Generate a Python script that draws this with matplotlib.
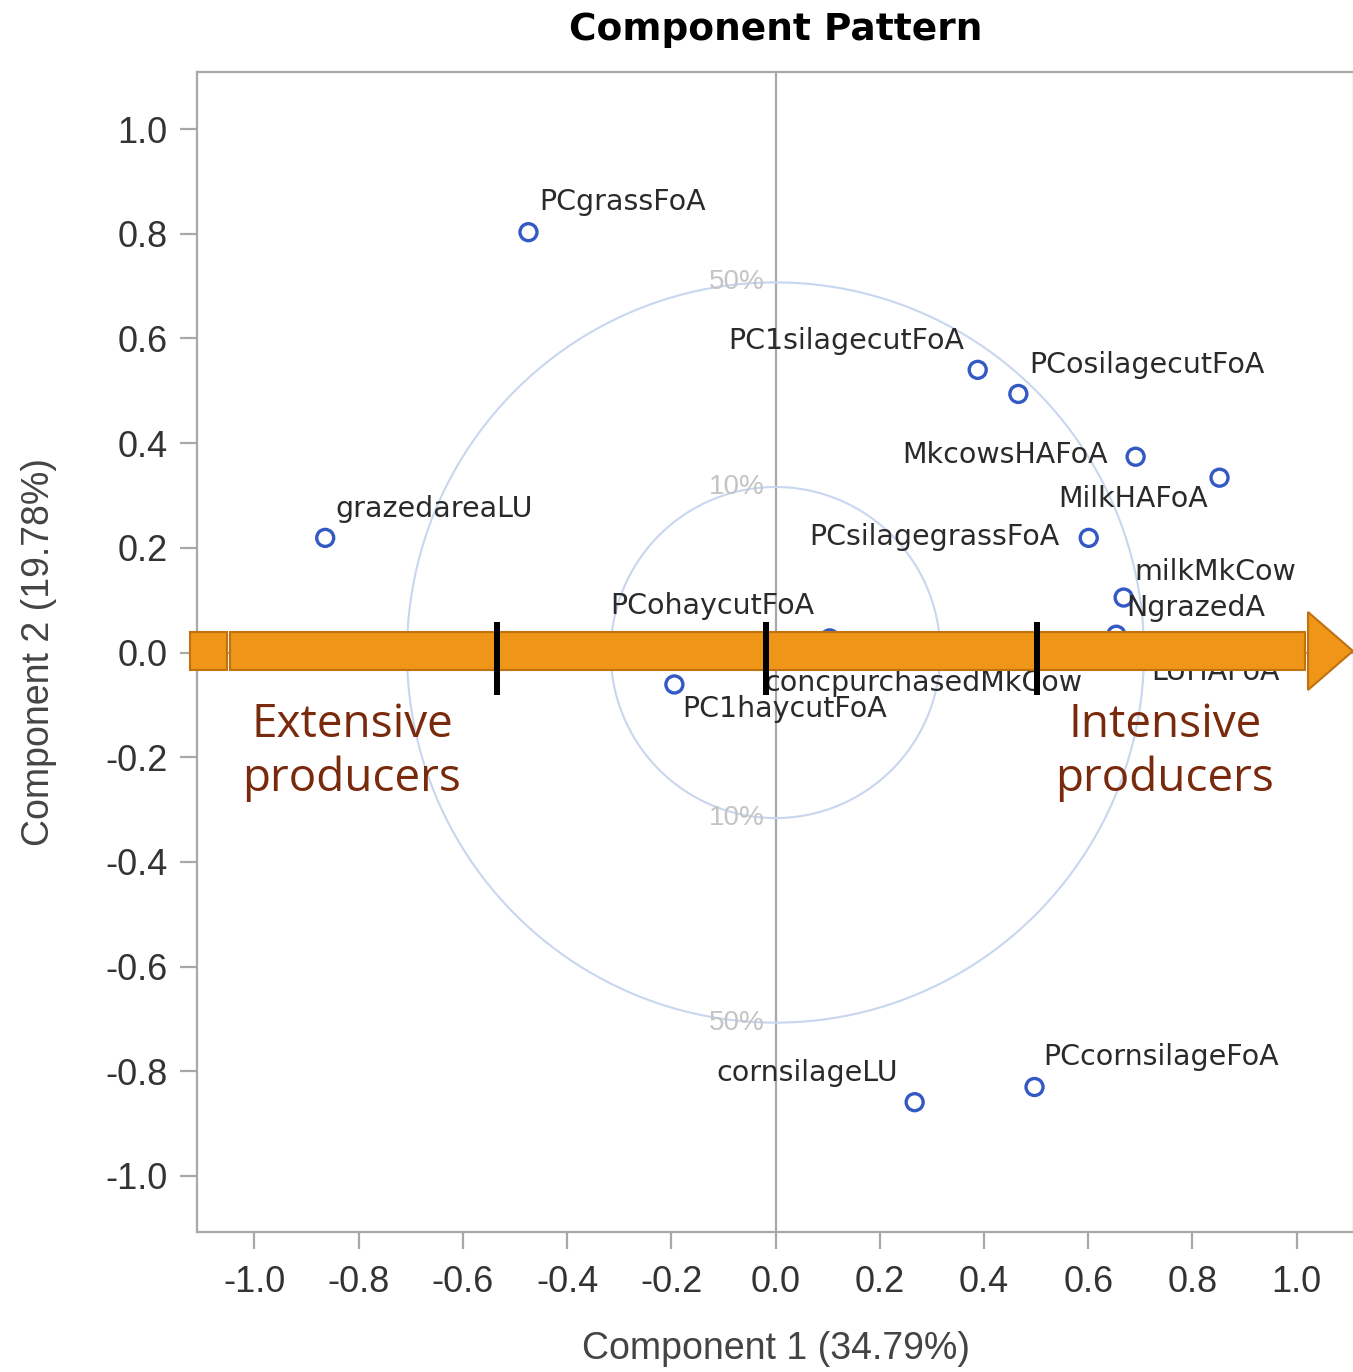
import matplotlib

matplotlib.use("Agg")
import matplotlib.pyplot as plt
import matplotlib.patches as mpatches
import numpy as np

# Component loadings
variables = [
    "PCgrassFoA", "PC1silagecutFoA", "PCosilagecutFoA", "MkcowsHAFoA",
    "MilkHAFoA", "PCsilagegrassFoA", "grazedareaLU", "milkMkCow",
    "NgrazedA", "PCohaycutFoA", "PC1haycutFoA", "concpurchasedMkCow",
    "LUHAFoA", "cornsilageLU", "PCcornsilageFoA",
]
comp1 = [-0.474, 0.388, 0.466, 0.691, 0.852, 0.601, -0.864, 0.668,
         0.654, 0.104, -0.194, -0.036, 0.706, 0.267, 0.497]
comp2 = [0.803, 0.540, 0.494, 0.374, 0.334, 0.219, 0.219, 0.105,
         0.034, 0.027, -0.061, -0.010, 0.011, -0.859, -0.830]

# variance explained circles
circle_pct = [10, 50]

ticks = [-1.0, -0.8, -0.6, -0.4, -0.2, 0.0, 0.2, 0.4, 0.6, 0.8, 1.0]

# label placement (pixel offset from point, horizontal alignment)
label_pos = {
    "PCgrassFoA": (11, 30, "left"),
    "PC1silagecutFoA": (-13, 29, "right"),
    "PCosilagecutFoA": (11, 29, "left"),
    "MkcowsHAFoA": (-28, 2, "right"),
    "MilkHAFoA": (-12, -21, "right"),
    "PCsilagegrassFoA": (-29, 1, "right"),
    "grazedareaLU": (10, 29, "left"),
    "milkMkCow": (11, 26, "left"),
    "NgrazedA": (10, 27, "left"),
    "PCohaycutFoA": (-15, 32, "right"),
    "PC1haycutFoA": (8, -25, "left"),
    "concpurchasedMkCow": (8, -25, "left"),
    "LUHAFoA": (8, -25, "left"),
    "cornsilageLU": (-17, 29, "right"),
    "PCcornsilageFoA": (9, 30, "left"),
}

W, H = 1353, 1372
GRID = "#a8a8a8"
TXT = "#333333"


def px(x, y):
    return (x / W, 1 - y / H)


fig = plt.figure(figsize=(W / 100, H / 100), dpi=100)
ax = fig.add_axes([197 / W, (H - 1232) / H, 1157 / W, 1160 / H])
ax.set_xlim(-1.11, 1.11)
ax.set_ylim(-1.107, 1.109)

for s in ax.spines.values():
    s.set_color(GRID)
    s.set_linewidth(1.6)

ax.set_xticks(ticks)
ax.set_yticks(ticks)
ax.set_xticklabels([f"{t:.1f}" for t in ticks])
ax.set_yticklabels([f"{t:.1f}" for t in ticks])
ax.tick_params(axis="both", colors=GRID, length=12, width=1.6, labelcolor=TXT,
               labelsize=26)
ax.tick_params(axis="x", pad=12)
ax.tick_params(axis="y", pad=9)
for lab in ax.get_xticklabels() + ax.get_yticklabels():
    lab.set_fontfamily("Liberation Sans")

ax.set_xlabel("Component 1 (34.79%)", fontsize=27, color="#444444",
              family="Liberation Sans", labelpad=22)
ax.set_ylabel("Component 2 (19.78%)", fontsize=27, color="#444444",
              family="Liberation Sans", labelpad=35)

ax.axvline(0, color=GRID, lw=1.6, zorder=1)
ax.axhline(0, color=GRID, lw=1.6, zorder=1)

theta = np.linspace(0, 2 * np.pi, 400)
for p in circle_pct:
    r = np.sqrt(p / 100)
    ax.plot(r * np.cos(theta), r * np.sin(theta), color="#c9d6ef", lw=1.5, zorder=1)
    for sgn in (1, -1):
        ax.text(-0.075, sgn * r, f"{p}%", ha="center", va="center", fontsize=20,
                color="#c4c4c4", family="Liberation Sans", zorder=2)

ax.scatter(comp1, comp2, s=150, facecolors="none", edgecolors="#3359c4",
           linewidths=2.4, zorder=3)
for name, x, y in zip(variables, comp1, comp2):
    dx, dy, ha = label_pos[name]
    ax.annotate(name, (x, y), xytext=(dx, dy), textcoords="offset pixels",
                ha=ha, va="center", fontsize=20.5, color="#2a2a2a",
                family="DejaVu Sans", zorder=4)

fig.text(*px(776, 30), "Component Pattern", ha="center", va="center",
         fontsize=27, fontweight="bold", color="black", family="DejaVu Sans")

# overlay: orange arrow with black markers
ORANGE = "#ef9518"
EDGE = "#bf720d"
for x0, x1 in [(190, 227), (230, 1305)]:
    (fx0, fy0) = px(x0, 670)
    (fx1, fy1) = px(x1, 632)
    fig.patches.append(mpatches.Rectangle((fx0, fy0), fx1 - fx0, fy1 - fy0,
                                          transform=fig.transFigure, facecolor=ORANGE,
                                          edgecolor=EDGE, lw=1.5, zorder=10))
head = [px(1308, 612), px(1353, 651), px(1308, 690)]
fig.patches.append(mpatches.Polygon(head, closed=True, transform=fig.transFigure,
                                    facecolor=ORANGE, edgecolor=EDGE, lw=1.5, zorder=10))
for xm in [497, 766, 1037]:
    (fx0, fy0) = px(xm - 3, 695)
    (fx1, fy1) = px(xm + 3, 622)
    fig.patches.append(mpatches.Rectangle((fx0, fy0), fx1 - fx0, fy1 - fy0,
                                          transform=fig.transFigure, facecolor="black",
                                          edgecolor="none", zorder=11))

BROWN = "#7a2a0c"
fig.text(*px(352, 752), "Extensive\nproducers", ha="center", va="center",
         fontsize=33, color=BROWN, family="Open Sans", linespacing=1.2, zorder=12)
fig.text(*px(1165, 752), "Intensive\nproducers", ha="center", va="center",
         fontsize=33, color=BROWN, family="Open Sans", linespacing=1.2, zorder=12)

fig.savefig("out.png", dpi=100, facecolor="white")
